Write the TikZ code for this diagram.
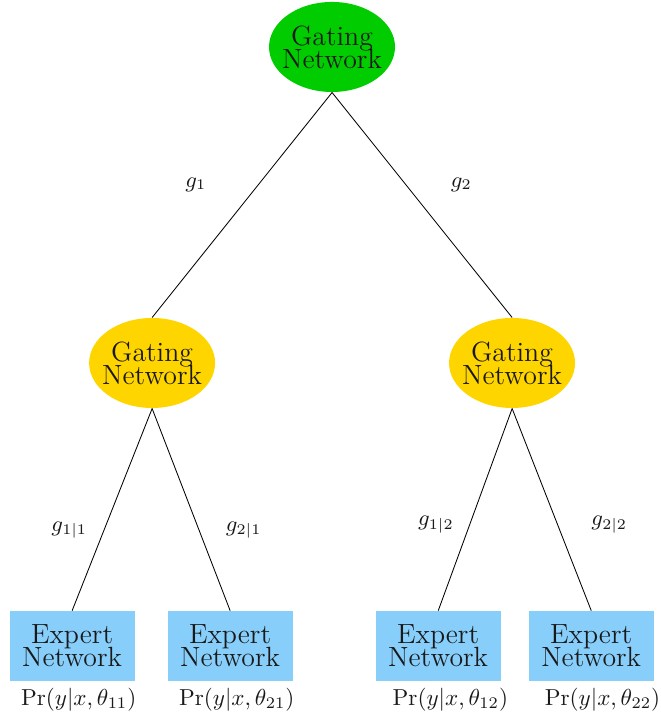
\documentclass[tikz,border=0pt]{standalone}
\usepackage{tikz}
\usetikzlibrary{positioning, shapes.geometric}
\definecolor{gategreen}{HTML}{00CC00}
\definecolor{gateyellow}{HTML}{FFD500}
\definecolor{expertblue}{HTML}{87CEFA}
\newcommand{\netfont}{\fontsize{11.3}{9.3}\selectfont\lineskiplimit=-10pt\relax}

\begin{document}
\begin{tikzpicture}[
    scale=1.75, every node/.append style={transform shape},
    gate/.style={ellipse, minimum width=1.8cm, minimum height=1.286cm, inner xsep=-0.1cm, inner ysep=0pt, align=center, text=black!90, font=\netfont},
    expert/.style={rectangle, minimum width=1.786cm, minimum height=1cm, inner sep=0pt, align=center, fill=expertblue, text=black!90, font=\netfont},
    link/.style={line width=0.6pt},
    glabel/.style={text=black!90, font=\small},
    prlabel/.style={text=black!90, font=\normalsize, scale=0.94, inner sep=1pt}
]
\useasboundingbox (0,0) rectangle (9.4286,-10.2429);

% Root gate
\node[gate, fill=gategreen] (root) at (4.743,-0.671) {Gating\\Network};

% Second level gates
\node[gate, fill=gateyellow, below=3.214cm of root, xshift=-2.571cm] (gateL) {Gating\\Network};
\node[gate, fill=gateyellow, below=3.214cm of root, xshift=2.571cm] (gateR) {Gating\\Network};

% Experts
\node[expert, below=2.886cm of gateL, xshift=-1.143cm] (exp11) {Expert\\Network};
\node[expert, below=2.886cm of gateL, xshift=1.114cm] (exp21) {Expert\\Network};
\node[expert, below=2.886cm of gateR, xshift=-1.057cm] (exp12) {Expert\\Network};
\node[expert, below=2.886cm of gateR, xshift=1.129cm] (exp22) {Expert\\Network};

% Output labels
\node[prlabel, below=0.05cm of exp11, xshift=0.1cm] (out11) {$\Pr(y|x,\theta_{11})$};
\node[prlabel, below=0.05cm of exp21, xshift=0.1cm] (out21) {$\Pr(y|x,\theta_{21})$};
\node[prlabel, below=0.05cm of exp12, xshift=0.185cm] (out12) {$\Pr(y|x,\theta_{12})$};
\node[prlabel, below=0.05cm of exp22, xshift=0.171cm] (out22) {$\Pr(y|x,\theta_{22})$};

% Connections
\draw[link] (root.south) -- node[glabel, pos=0.41, left=0.614cm] {$g_1$} (gateL.north);
\draw[link] (root.south) -- node[glabel, pos=0.41, right=0.515cm] {$g_2$} (gateR.north);
\draw[link] (gateL.south) -- node[glabel, pos=0.6, left=0.114cm] {$g_{1|1}$} (exp11.north);
\draw[link] (gateL.south) -- node[glabel, pos=0.6, right=0.257cm] {$g_{2|1}$} (exp21.north);
\draw[link] (gateR.south) -- node[glabel, pos=0.574, left=0.1cm] {$g_{1|2}$} (exp12.north);
\draw[link] (gateR.south) -- node[glabel, pos=0.574, right=0.357cm] {$g_{2|2}$} (exp22.north);

\end{tikzpicture}
\end{document}
